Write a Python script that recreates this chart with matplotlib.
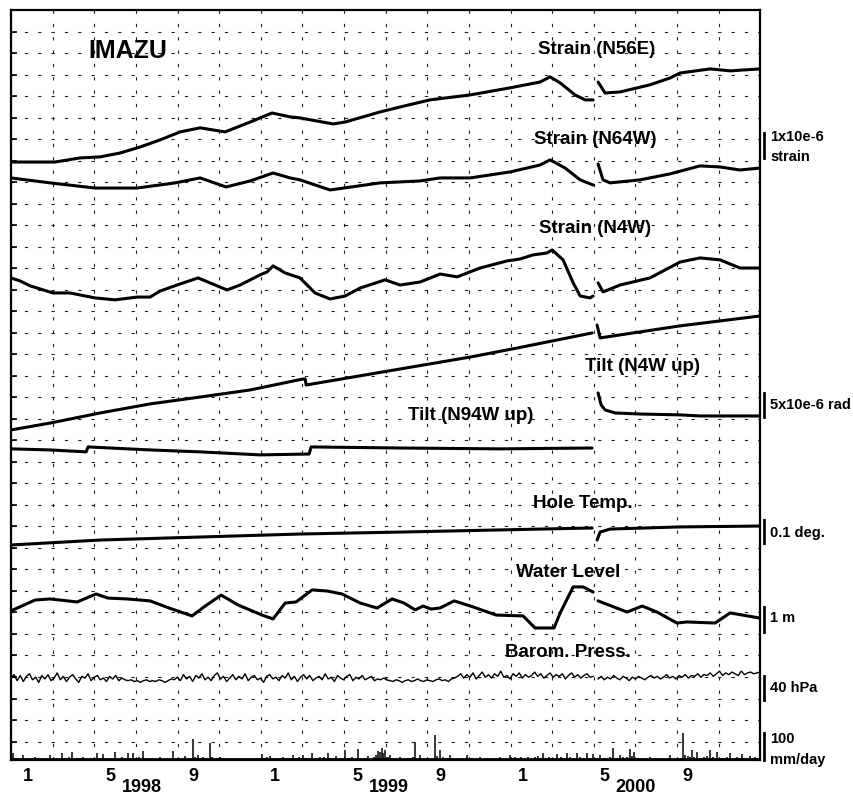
import numpy as np
import matplotlib
matplotlib.use("Agg")
import matplotlib.pyplot as plt

plt.rcParams['font.family'] = ['Liberation Sans', 'DejaVu Sans']
plt.rcParams['font.weight'] = 'bold'

# x: months counted from 1 Jan 1998, y: chart divisions counted up from bottom frame
# nan marks the data gap in April 2000
gap = np.nan

n56e_t = [-0.83, 1.31, 2.52, 3.50, 4.47, 5.44, 6.41, 7.38, 8.35, 9.56, 10.78, 11.84, 12.72, 13.20,
          14.81, 15.39, 17.09, 18.06, 19.51, 21.46, 23.40, 24.85, 25.34, 25.83, 26.55, 27.04, 27.43,
          27.55, 27.67, 28.01, 28.74, 30.19, 31.17, 31.65, 33.11, 34.08, 35.53]
n56e_y = [27.81, 27.81, 28.00, 28.05, 28.23, 28.51, 28.84, 29.21, 29.40, 29.21, 29.67, 30.09, 29.91, 29.86,
          29.58, 29.67, 30.14, 30.37, 30.70, 30.93, 31.26, 31.53, 31.77, 31.49, 30.93, 30.70, 30.70,
          gap, 31.53, 31.02, 31.07, 31.40, 31.72, 31.95, 32.14, 32.05, 32.14]

n64w_t = [-0.83, 1.07, 3.25, 5.29, 7.14, 8.35, 9.61, 10.78, 11.89, 12.72, 13.20, 14.66, 17.09, 19.03,
          20.00, 21.46, 23.40, 24.85, 25.34, 26.07, 26.80, 27.43,
          27.55, 27.67, 27.91, 28.25, 29.71, 31.17, 32.62, 33.59, 34.56, 35.53]
n64w_y = [27.07, 26.84, 26.60, 26.60, 26.84, 27.07, 26.65, 26.93, 27.30, 27.07, 26.98, 26.51, 26.84, 26.93,
          27.07, 27.07, 27.35, 27.67, 27.91, 27.53, 26.98, 26.74,
          gap, 27.72, 26.98, 26.84, 26.98, 27.26, 27.63, 27.58, 27.44, 27.53]

n4w_t = [-0.83, -0.39, 0.10, 1.21, 2.04, 3.25, 4.22, 5.29, 5.92, 6.41, 7.38, 8.25, 9.08, 9.66, 10.29,
         11.26, 11.60, 11.89, 12.48, 13.20, 13.93, 14.66, 15.39, 16.12, 17.33, 18.06, 19.03, 20.00,
         20.83, 21.94, 23.25, 23.88, 24.51, 25.19, 25.44, 25.97, 26.46, 26.80, 27.28, 27.43,
         27.55, 27.67, 27.91, 28.74, 30.19, 31.65, 32.62, 33.59, 34.56, 35.53]
n4w_y = [22.42, 22.28, 22.05, 21.72, 21.72, 21.49, 21.40, 21.53, 21.53, 21.81, 22.14, 22.42, 22.09, 21.86, 22.09,
         22.56, 22.70, 22.98, 22.65, 22.42, 21.72, 21.44, 21.58, 21.95, 22.33, 22.09, 22.23, 22.60,
         22.47, 22.88, 23.21, 23.30, 23.49, 23.58, 23.72, 23.26, 22.19, 21.58, 21.49, 21.58,
         gap, 22.19, 21.77, 22.09, 22.42, 23.16, 23.35, 23.26, 22.88, 22.88]

tilt_n4w_t = [-0.83, 1.07, 3.50, 5.92, 8.35, 10.78, 13.35, 13.45, 13.50, 17.23, 21.46, 23.74, 27.38,
              27.50, 27.62, 27.77, 31.65, 35.53]
tilt_n4w_y = [15.35, 15.67, 16.14, 16.56, 16.88, 17.21, 17.72, 17.72, 17.44, 18.05, 18.74, 19.16, 19.86,
              gap, 20.23, 19.63, 20.19, 20.65]

tilt_n94w_t = [-0.83, 1.07, 2.82, 2.91, 5.92, 8.35, 11.26, 13.64, 13.74, 18.06, 22.91, 27.38,
               27.50, 27.67, 27.82, 28.01, 28.50, 29.71, 31.65, 32.62, 35.53]
tilt_n94w_y = [14.47, 14.42, 14.33, 14.56, 14.42, 14.33, 14.19, 14.23, 14.56, 14.51, 14.47, 14.51,
               gap, 17.07, 16.51, 16.28, 16.14, 16.09, 16.05, 16.00, 16.00]

temp_t = [-0.83, 3.50, 8.35, 13.20, 18.06, 22.91, 27.38, 27.50, 27.62, 27.77, 28.25, 31.65, 35.53]
temp_y = [10.00, 10.23, 10.37, 10.51, 10.60, 10.70, 10.79, gap, 10.23, 10.60, 10.74, 10.84, 10.88]

water_t = [-0.73, 0.34, 1.07, 2.38, 3.30, 3.88, 4.81, 5.92, 6.84, 7.96, 8.54, 9.37, 10.19, 11.36, 11.89,
           12.48, 13.01, 13.79, 14.51, 15.24, 16.12, 16.94, 17.67, 18.25, 18.79, 19.17, 19.56, 20.00,
           20.68, 21.60, 22.72, 24.03, 24.61, 25.53, 25.83, 26.46, 26.94, 27.43,
           27.55, 27.67, 29.08, 29.81, 30.53, 31.50, 31.99, 33.35, 34.08, 35.53]
water_y = [6.98, 7.44, 7.49, 7.35, 7.72, 7.53, 7.49, 7.40, 7.07, 6.70, 7.12, 7.67, 7.21, 6.74, 6.56,
           7.30, 7.35, 7.91, 7.86, 7.72, 7.30, 7.07, 7.49, 7.30, 6.98, 7.16, 7.02, 7.07,
           7.40, 7.12, 6.74, 6.70, 6.14, 6.14, 6.84, 8.05, 8.05, 7.81,
           gap, 7.40, 6.88, 7.16, 6.88, 6.37, 6.42, 6.37, 6.84, 6.60]

# barometric pressure (hPa), evenly spaced readings before and after the gap
baro_a = [1013, 1017, 1010, 1016, 1009, 1015, 1018, 1011, 1014, 1008, 1016, 1012, 1017, 1010, 1013, 1019,
          1011, 1015, 1009, 1014, 1017, 1012, 1008, 1015, 1013, 1018, 1010, 1014, 1016, 1011, 1013, 1009,
          1015, 1012, 1016, 1010, 1013, 1011,
          1010, 1011, 1009, 1010, 1008, 1010, 1011, 1009, 1010, 1009, 1011, 1010, 1008, 1010, 1012, 1011,
          1014, 1010, 1017, 1012, 1015, 1009, 1016, 1013, 1018, 1011, 1014, 1010, 1016, 1019, 1012, 1015,
          1009, 1013, 1017, 1011, 1015, 1012, 1018, 1010, 1014, 1016, 1011, 1013, 1008, 1015, 1017, 1012,
          1014, 1010, 1016, 1013, 1019, 1011, 1015, 1009, 1014, 1017, 1012, 1016, 1010, 1013, 1015, 1011,
          1018, 1012, 1014, 1009, 1016, 1013, 1011, 1015, 1017, 1010, 1014, 1012, 1016, 1011, 1013, 1015,
          1010, 1012, 1011, 1013,
          1011, 1010, 1009, 1011, 1010, 1008, 1010, 1011, 1009, 1010, 1012, 1010, 1009, 1011, 1010, 1009,
          1011, 1012, 1010, 1011, 1009, 1012, 1013,
          1015, 1018, 1013, 1017, 1014, 1019, 1012, 1016, 1020, 1014, 1017, 1013, 1018, 1015, 1021, 1014,
          1016, 1012, 1018, 1015, 1019, 1013, 1017, 1014, 1016, 1020, 1015, 1018, 1013, 1016, 1019, 1014,
          1017, 1015, 1018, 1012, 1016, 1019, 1014, 1017, 1013, 1016, 1018, 1014, 1015]
baro_b = [1012, 1015, 1011, 1014, 1012, 1016, 1013, 1011, 1015, 1013, 1010, 1014, 1012, 1015, 1013, 1011,
          1014, 1016, 1013, 1015, 1012, 1014, 1017, 1013, 1015, 1012, 1016, 1014, 1017, 1013, 1016, 1015,
          1018, 1014, 1017, 1016, 1019, 1015, 1018, 1021, 1016, 1019, 1017, 1020, 1018, 1016, 1021, 1017,
          1019, 1020, 1018, 1019, 1020]

# daily precipitation (mm/day)
rain_t = [-0.73, -0.60, -0.45, -0.24, 0.00, 0.15, 0.34, 0.50, 0.70, 0.85, 1.07, 1.20, 1.35, 1.50, 1.65,
          1.85, 2.00, 2.14, 2.40, 2.55, 2.67, 2.85, 3.05, 3.20, 3.35, 3.50, 3.64, 3.80, 3.95, 4.10,
          4.22, 4.40, 4.55, 4.70, 4.85, 5.10, 5.25, 5.40, 5.58, 5.75, 5.90, 6.10, 6.25, 6.41, 6.60,
          6.75, 6.90, 7.04, 7.20, 7.30, 7.45, 7.62, 7.80, 8.01, 8.12, 8.25, 8.40, 8.50, 8.65, 8.83,
          8.95, 9.10, 9.32, 9.50, 9.65, 9.80, 10.00, 10.15, 10.30, 10.50, 10.65, 10.80, 11.00, 11.15,
          11.36, 11.50, 11.60, 11.75, 11.90, 12.05, 12.20, 12.38, 12.55, 12.70, 12.86, 13.00, 13.15,
          13.35, 13.50, 13.65, 13.79, 13.95, 14.05, 14.17, 14.35, 14.56, 14.70, 14.80, 14.95, 15.10,
          15.25, 15.39, 15.55, 15.70, 15.85, 16.02, 16.15, 16.30, 16.50, 16.65, 16.80, 16.90, 16.99,
          17.08, 17.18, 17.25, 17.33, 17.45, 17.57, 17.75, 17.90, 18.06, 18.20, 18.40, 18.55, 18.70,
          18.79, 18.90, 19.03, 19.20, 19.40, 19.55, 19.76, 19.85, 20.00, 20.15, 20.30, 20.49, 20.65,
          20.80, 20.90, 21.05, 21.20, 21.31, 21.50, 21.65, 21.80, 21.94, 22.10, 22.25, 22.40, 22.55,
          22.70, 22.91, 23.05, 23.20, 23.40, 23.52, 23.64, 23.80, 23.95, 24.10, 24.25, 24.40, 24.60,
          24.75, 24.85, 25.00, 25.15, 25.30, 25.45, 25.68, 25.85, 26.00, 26.17, 26.30, 26.45, 26.65,
          26.80, 27.00, 27.14, 27.30, 27.43, 27.60, 27.77, 27.95, 28.10, 28.25, 28.40, 28.55, 28.74,
          28.90, 29.05, 29.22, 29.32, 29.42, 29.60, 29.80, 29.95, 30.19, 30.35, 30.50, 30.70, 30.90,
          31.05, 31.17, 31.35, 31.50, 31.65, 31.80, 31.90, 32.04, 32.15, 32.23, 32.35, 32.48, 32.60,
          32.80, 32.95, 33.11, 33.25, 33.45, 33.60, 33.80, 33.95, 34.08, 34.25, 34.40, 34.55, 34.66,
          34.85, 35.05, 35.20, 35.30, 35.45]
rain_v = [26, 8, 5, 18, 6, 4, 10, 6, 6, 4, 18, 5, 8, 4, 26,
          6, 10, 30, 7, 5, 12, 4, 6, 8, 26, 6, 22, 5, 8, 6,
          30, 5, 10, 4, 26, 24, 6, 10, 33, 5, 6, 4, 5, 12, 4,
          5, 6, 35, 6, 8, 5, 15, 6, 77, 12, 20, 8, 10, 6, 64,
          10, 5, 12, 4, 5, 5, 3, 4, 6, 3, 4, 4, 5, 8,
          22, 6, 10, 15, 6, 8, 5, 12, 6, 8, 18, 6, 10,
          18, 8, 6, 26, 8, 6, 12, 10, 26, 6, 8, 15, 5,
          8, 37, 6, 10, 5, 40, 6, 8, 15, 5, 10, 20, 35,
          30, 43, 25, 38, 12, 20, 6, 8, 12, 5, 8, 6, 10,
          68, 8, 18, 6, 6, 5, 93, 15, 37, 12, 8, 18, 6,
          5, 6, 4, 8, 18, 6, 5, 6, 10, 5, 6, 5, 8,
          5, 12, 6, 8, 18, 8, 10, 6, 12, 6, 10, 8, 12,
          15, 8, 27, 6, 10, 8, 22, 10, 8, 24, 12, 6, 24,
          10, 8, 24, 8, 22, 6, 18, 8, 8, 12, 43, 8, 20,
          10, 12, 40, 15, 30, 8, 8, 5, 10, 4, 6, 6, 5,
          8, 18, 5, 5, 6, 100, 20, 15, 10, 37, 12, 30, 8,
          10, 15, 37, 10, 30, 6, 8, 12, 25, 6, 10, 8, 22,
          6, 15, 5, 10, 6]

month_ticks = [0, 4, 8, 12, 16, 20, 24, 28, 32]
month_labels = ['1', '5', '9', '1', '5', '9', '1', '5', '9']
year_pos = [5.5, 17.5, 29.5]
year_labels = ['1998', '1999', '2000']

fig = plt.figure(figsize=(8.54, 8.0), dpi=100)
ax = fig.add_axes([11 / 854, 1 - 760 / 800, 749 / 854, 750 / 800])
ax.set_xlim(-0.83, 35.53)
ax.set_ylim(0, 34.88)

# dashed grid
ygrid = 0.86 + np.arange(34)
xgrid = 1.2 + 2.02 * np.arange(17)
ax.set_yticks(ygrid)
ax.set_yticklabels([])
ax.tick_params(axis='y', direction='in', length=4, width=1.2)
ax.set_xticks(month_ticks)
ax.set_xticklabels(month_labels, fontsize=13, fontweight='bold')
ax.tick_params(axis='x', length=0, pad=6)
ax.set_xticks(xgrid, minor=True)
ax.tick_params(axis='x', which='minor', length=0)
ax.grid(True, which='major', axis='y', linestyle=(0, (3, 9)), color='#222222', linewidth=0.8)
ax.grid(True, which='minor', axis='x', linestyle=(0, (3, 9)), color='#222222', linewidth=0.8)
for s in ax.spines.values():
    s.set_linewidth(1.6)

for t, y in [(n56e_t, n56e_y), (n64w_t, n64w_y), (n4w_t, n4w_y), (tilt_n4w_t, tilt_n4w_y),
             (tilt_n94w_t, tilt_n94w_y), (temp_t, temp_y), (water_t, water_y)]:
    ax.plot(t, y, color='black', linewidth=2.2, solid_joinstyle='round', solid_capstyle='round')

# barometric pressure trace around its baseline
baro_t_a = np.linspace(-0.83, 27.43, len(baro_a))
baro_t_b = np.linspace(27.67, 35.53, len(baro_b))
ax.plot(baro_t_a, 3.81 + (np.array(baro_a) - 1013) * 0.04, color='black', linewidth=1.0)
ax.plot(baro_t_b, 3.81 + (np.array(baro_b) - 1013) * 0.04, color='black', linewidth=1.0)

# precipitation bars (100 mm/day = 1.26 div)
ax.vlines(rain_t, 0, np.array(rain_v) * 0.0126, color='black', linewidth=1.1)
ax.plot([-0.83, 35.53], [0.05, 0.05], color='black', linewidth=2.0)

# titles
ax.text(4.85, 32.95, 'IMAZU', fontsize=18, fontweight='bold', ha='center', va='center')
labels = [('Strain (N56E)', 27.62, 33.02), ('Strain (N64W)', 27.55, 28.84), ('Strain (N4W)', 27.52, 24.70),
          ('Tilt (N4W up)', 29.85, 18.28), ('Tilt (N94W up)', 21.50, 16.0), ('Hole Temp.', 26.94, 11.95),
          ('Water Level', 26.21, 8.70), ('Barom. Press.', 26.21, 5.02)]
for txt, x, y in labels:
    ax.text(x, y, txt, fontsize=13.5, fontweight='bold', ha='center', va='center')

# scale bars at the right
bars = [(28.0, 29.16), (15.95, 17.07), (10.09, 11.16), (5.95, 7.12), (2.79, 3.90), (0.0, 1.26)]
for y0, y1 in bars:
    ax.plot([35.73, 35.73], [y0, y1], color='black', linewidth=2.0, clip_on=False)
notes = [('1x10e-6', 28.98), ('strain', 28.05), ('5x10e-6 rad', 16.51), ('0.1 deg.', 10.56),
         ('1 m', 6.60), ('40 hPa', 3.35), ('100', 0.98), ('mm/day', 0.0)]
for txt, y in notes:
    ax.text(36.02, y, txt, fontsize=10.5, fontweight='bold', ha='left', va='center')

for x, yr in zip(year_pos, year_labels):
    ax.text(x, -0.037, yr, transform=ax.get_xaxis_transform(), fontsize=13, fontweight='bold',
            ha='center', va='center')

fig.savefig('out.png', dpi=100, facecolor='white')
